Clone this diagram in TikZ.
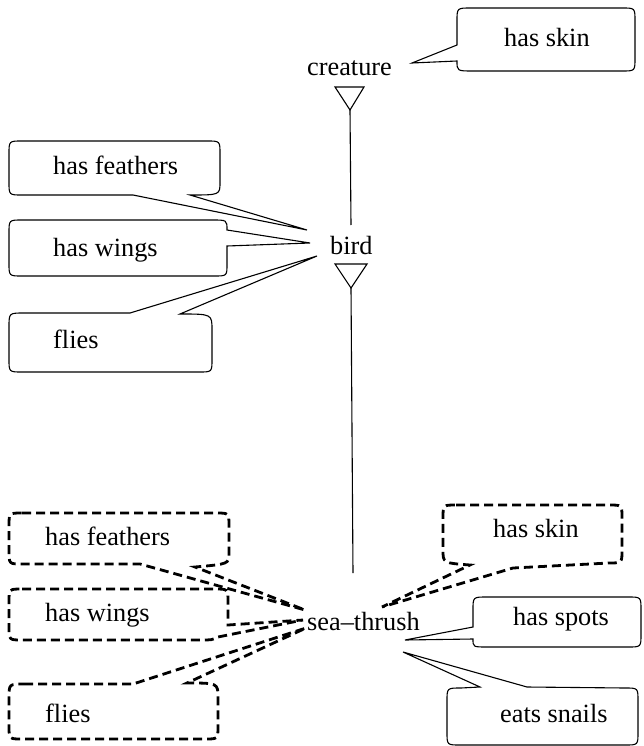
\documentclass[tikz,border=0pt]{standalone}
\usepackage{fontspec}
\setmainfont{Liberation Serif}
\begin{document}
\begin{tikzpicture}[x=1pt,y=-1pt,
  txt/.style={inner sep=0pt, anchor=base west, font=\fontsize{26.3}{30}\selectfont},
  solidline/.style={line width=1.1pt, line join=miter},
  dashline/.style={line width=2.8pt, dash pattern=on 9pt off 5pt, line join=miter},
  isa/.style={line width=1.1pt},
]
\useasboundingbox (0,0) rectangle (643,746);

% concept labels
\node[txt] (creature) at (307,76) {creature};
\node[txt] (bird) at (330,254) {bird};
\node[txt] (thrush) at (307,630) {sea–thrush};

% attribute labels
\node[txt] (cskin) at (504,47) {has skin};
\node[txt] (bfeath) at (53,175) {has feathers};
\node[txt] (bwings) at (53,256) {has wings};
\node[txt] (bflies) at (53,348) {flies};
\node[txt] (tfeath) at (45,545) {has feathers};
\node[txt] (twings) at (45,621) {has wings};
\node[txt] (tflies) at (45,722) {flies};
\node[txt] (tskin) at (493,537) {has skin};
\node[txt] (tspots) at (513,625) {has spots};
\node[txt] (tsnails) at (500,722) {eats snails};

% tail tips of the callouts
\coordinate (cskintip) at (412,63);
\coordinate (bfeathtip) at (307,230);
\coordinate (bwingstip) at (310,243);
\coordinate (bfliestip) at (317,256);
\coordinate (tfeathtip) at (305,610);
\coordinate (twingstip) at (303,620);
\coordinate (tfliestip) at (306,628);
\coordinate (tskintip) at (382,607);
\coordinate (tspotstip) at (405,640);
\coordinate (tsnailstip) at (403,652);

% is-a links with open triangles
\coordinate (ctri) at (350,110);
\coordinate (btop) at (351,225);
\coordinate (btri) at (351,288);
\coordinate (ttop) at (353,573);
\draw[isa] (335,87) -- (364,87) -- (ctri) -- cycle;
\draw[isa] (ctri) -- (btop);
\draw[isa] (335,264) -- (367,264) -- (btri) -- cycle;
\draw[isa] (btri) -- (ttop);

% callout: has skin (creature)
\draw[solidline] (471,8) -- (622,8) .. controls (635,8) .. (635,21) -- (635,58)
  .. controls (635,71) .. (622,71) -- (473,71) .. controls (457,71) .. (457,61)
  -- (cskintip) -- (457,45) -- (457,21) .. controls (457,8) .. (471,8) -- cycle;

% callout: has feathers (bird)
\draw[solidline] (22,141) -- (207,141) .. controls (220,141) .. (220,154) -- (220,182)
  .. controls (220,195) .. (190,195) -- (bfeathtip) -- (133,195) -- (22,195)
  .. controls (9,195) .. (9,182) -- (9,154) .. controls (9,141) .. (22,141) -- cycle;

% callout: has wings (bird)
\draw[solidline] (22,220) -- (212,220) .. controls (227,220) .. (227,230)
  -- (bwingstip) -- (227,246) -- (227,264) .. controls (227,276) .. (214,276)
  -- (22,276) .. controls (9,276) .. (9,263) -- (9,233) .. controls (9,220) .. (22,220) -- cycle;

% callout: flies (bird)
\draw[solidline] (24,313) -- (130,313) -- (bfliestip) -- (180,314)
  .. controls (212,314) .. (212,330) -- (212,359) .. controls (212,372) .. (199,372)
  -- (22,372) .. controls (9,372) .. (9,359) -- (9,327) .. controls (9,313) .. (24,313) -- cycle;

% callout: has feathers (sea-thrush)
\draw[dashline] (22,513) -- (216,513) .. controls (229,513) .. (229,526) -- (229,553)
  .. controls (229,564) .. (195,567) -- (tfeathtip) -- (140,564) -- (22,564)
  .. controls (9,564) .. (9,551) -- (9,526) .. controls (9,513) .. (22,513) -- cycle;

% callout: has wings (sea-thrush)
\draw[dashline] (22,589) -- (215,589) .. controls (228,589) .. (228,602) -- (228,625)
  -- (twingstip) -- (218,637) .. controls (212,640) .. (200,640)
  -- (22,640) .. controls (9,640) .. (9,627) -- (9,602) .. controls (9,589) .. (22,589) -- cycle;

% callout: has flies (sea-thrush)
\draw[dashline] (24,684) -- (133,684) -- (tfliestip) -- (187,683)
  .. controls (218,683) .. (218,698) -- (218,726) .. controls (218,739) .. (205,739)
  -- (22,739) .. controls (9,739) .. (9,726) -- (9,698) .. controls (9,684) .. (24,684) -- cycle;

% callout: has skin (sea-thrush)
\draw[dashline] (456,505) -- (609,505) .. controls (622,505) .. (622,518) -- (622,550)
  .. controls (622,563) .. (609,563) -- (513,568) -- (tskintip) -- (470,565)
  .. controls (443,563) .. (443,550) -- (443,518) .. controls (443,505) .. (456,505) -- cycle;

% callout: has spots (sea-thrush)
\draw[solidline] (487,597) -- (628,597) .. controls (641,597) .. (641,610) -- (641,634)
  .. controls (641,647) .. (628,647) -- (487,647) .. controls (473,647) .. (473,639)
  -- (tspotstip) -- (473,627) -- (473,610) .. controls (473,597) .. (487,597) -- cycle;

% callout: eats snails (sea-thrush)
\draw[solidline] (461,688) -- (480,687) -- (tsnailstip) -- (527,687) -- (625,688)
  .. controls (638,688) .. (638,701) -- (638,732) .. controls (638,745) .. (625,745)
  -- (460,745) .. controls (447,745) .. (447,732) -- (447,701) .. controls (447,688) .. (461,688) -- cycle;
\end{tikzpicture}
\end{document}
